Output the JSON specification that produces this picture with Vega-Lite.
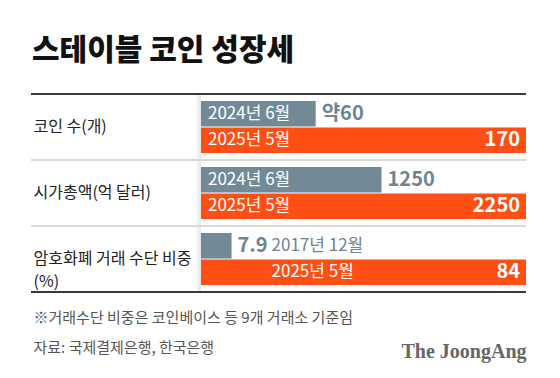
{
  "$schema": "https://vega.github.io/schema/vega-lite/v6.json",
  "width": 495,
  "height": 198,
  "autosize": {"type": "none"},
  "padding": {"left": 31, "top": 94, "right": 34, "bottom": 86},
  "background": "white",
  "config": {"view": {"stroke": null}, "font": "Noto Sans CJK KR"},
  "title": {
    "text": "스테이블 코인 성장세",
    "anchor": "start",
    "dx": 2,
    "offset": -3,
    "baseline": "bottom",
    "font": "Noto Sans CJK KR",
    "fontSize": 30,
    "fontWeight": 900,
    "color": "#111111"
  },
  "data": {
    "values": [
      {"group": "코인 수(개)", "series": "이전", "period": "2024년 6월", "value": 60, "label": "약60"},
      {"group": "코인 수(개)", "series": "현재", "period": "2025년 5월", "value": 170, "label": "170"},
      {"group": "시가총액(억 달러)", "series": "이전", "period": "2024년 6월", "value": 1250, "label": "1250"},
      {"group": "시가총액(억 달러)", "series": "현재", "period": "2025년 5월", "value": 2250, "label": "2250"},
      {"group": "암호화폐 거래 수단 비중(%)", "series": "이전", "period": "2017년 12월", "value": 7.9, "label": "7.9"},
      {"group": "암호화폐 거래 수단 비중(%)", "series": "현재", "period": "2025년 5월", "value": 84, "label": "84"}
    ]
  },
  "transform": [
    {"joinaggregate": [{"op": "max", "field": "value", "as": "maxV"}], "groupby": ["group"]},
    {"calculate": "datum.value / datum.maxV", "as": "ratio"},
    {"joinaggregate": [{"op": "min", "field": "ratio", "as": "minR"}], "groupby": ["group"]}
  ],
  "layer": [
    {
      "encoding": {
        "y": {
          "field": "group",
          "type": "nominal",
          "sort": null,
          "scale": {"paddingInner": 0.212, "paddingOuter": 0.106},
          "axis": {
            "title": null,
            "ticks": false,
            "domain": false,
            "grid": false,
            "zindex": 1,
            "labelAlign": "left",
            "labelBaseline": "middle",
            "labelPadding": -2,
            "labelLimit": 400,
            "labelOverlap": false,
            "labelFont": "Noto Sans CJK KR",
            "labelFontSize": 16,
            "labelColor": "#222222",
            "labelLineHeight": 23,
            "labelExpr": "datum.value == '암호화폐 거래 수단 비중(%)' ? ['암호화폐 거래 수단 비중', '(%)'] : datum.label"
          }
        },
        "yOffset": {"field": "series", "type": "nominal", "sort": null, "scale": {"paddingInner": 0.03, "paddingOuter": 0}}
      },
      "layer": [
        {
          "mark": {"type": "bar"},
          "encoding": {
            "x": {
              "field": "ratio",
              "type": "quantitative",
              "scale": {"domain": [-0.523, 1], "zero": false, "nice": false},
              "axis": {
                "values": [1],
                "ticks": false,
                "domain": false,
                "grid": false,
                "labelExpr": "'The JoongAng'",
                "labelAlign": "right",
                "labelBaseline": "middle",
                "labelPadding": 59,
                "labelFont": "Liberation Serif",
                "labelFontWeight": "bold",
                "labelFontSize": 20,
                "labelColor": "#666666",
                "title": ["※거래수단 비중은 코인베이스 등 9개 거래소 기준임", "자료: 국제결제은행, 한국은행"],
                "titleAnchor": "start",
                "titleAlign": "left",
                "titleBaseline": "top",
                "titleX": 2,
                "titleY": 18,
                "titleLineHeight": 30,
                "titleFont": "Noto Sans CJK KR",
                "titleFontSize": 15,
                "titleFontWeight": "normal",
                "titleColor": "#555555"
              }
            },
            "x2": {"datum": 0},
            "color": {"field": "series", "type": "nominal", "scale": {"domain": ["이전", "현재"], "range": ["#718a96", "#ff4f14"]}, "legend": null}
          }
        },
        {
          "transform": [{"filter": "datum.group != '암호화폐 거래 수단 비중(%)'"}],
          "mark": {"type": "text", "align": "left", "baseline": "middle", "dx": 7, "fontSize": 17, "color": "white"},
          "encoding": {"x": {"datum": 0}, "text": {"field": "period"}}
        },
        {
          "transform": [{"filter": "datum.group == '암호화폐 거래 수단 비중(%)'"}],
          "mark": {"type": "text", "align": "left", "baseline": "middle", "dx": 40, "fontSize": 17},
          "encoding": {
            "x": {"field": "minR", "type": "quantitative"},
            "text": {"field": "period"},
            "color": {"condition": {"test": "datum.series == '이전'", "value": "#6c8592"}, "value": "white"}
          }
        },
        {
          "transform": [{"filter": "datum.series == '이전'"}],
          "mark": {"type": "text", "align": "left", "baseline": "middle", "dx": 6, "fontSize": 20, "fontWeight": "bold", "color": "#6c8592"},
          "encoding": {"x": {"field": "ratio", "type": "quantitative"}, "text": {"field": "label"}}
        },
        {
          "transform": [{"filter": "datum.series == '현재'"}],
          "mark": {"type": "text", "align": "right", "baseline": "middle", "dx": -6, "fontSize": 20, "fontWeight": "bold", "color": "white"},
          "encoding": {"x": {"field": "ratio", "type": "quantitative"}, "text": {"field": "label"}}
        }
      ]
    },
    {
      "data": {"values": [{}]},
      "encoding": {},
      "layer": [
        {
          "mark": {"type": "rect", "color": {"gradient": "linear", "x1": 0, "x2": 1, "y1": 0, "y2": 0, "stops": [{"offset": 0, "color": "#ffffff"}, {"offset": 1, "color": "#e4e4e4"}]}},
          "encoding": {"x": {"datum": -0.018, "type": "quantitative"}, "x2": {"datum": 0}}
        },
        {
          "mark": {"type": "rule", "color": "#d9d9d9", "strokeWidth": 2},
          "encoding": {"y": {"datum": "시가총액(억 달러)", "type": "nominal", "bandPosition": 0, "scale": {"domain": ["코인 수(개)", "시가총액(억 달러)", "암호화폐 거래 수단 비중(%)"], "paddingInner": 0, "paddingOuter": 0}, "axis": null}}
        },
        {
          "mark": {"type": "rule", "color": "#d9d9d9", "strokeWidth": 2},
          "encoding": {"y": {"datum": "암호화폐 거래 수단 비중(%)", "type": "nominal", "bandPosition": 0, "axis": null}}
        },
        {
          "mark": {"type": "rule", "color": "#3a3a3a", "strokeWidth": 2},
          "encoding": {"y": {"datum": "코인 수(개)", "type": "nominal", "bandPosition": 0, "axis": null}}
        },
        {
          "mark": {"type": "rule", "color": "#3a3a3a", "strokeWidth": 2},
          "encoding": {"y": {"datum": "암호화폐 거래 수단 비중(%)", "type": "nominal", "bandPosition": 1, "axis": null}}
        }
      ]
    }
  ],
  "resolve": {"scale": {"y": "independent"}}
}
